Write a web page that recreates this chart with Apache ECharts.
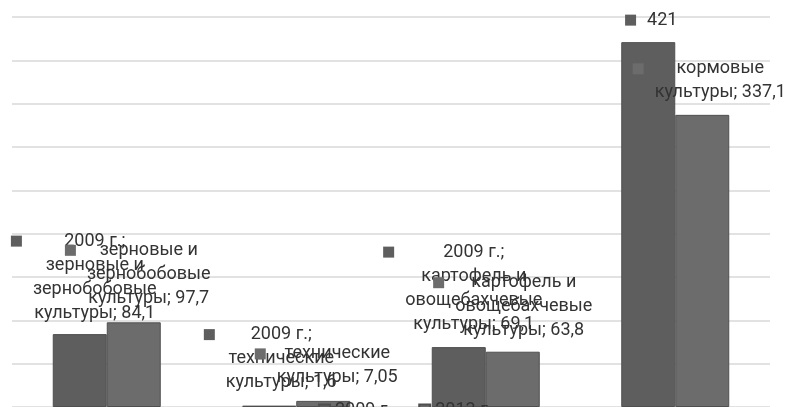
<!DOCTYPE html>
<html>
<head>
<meta charset="utf-8">
<script src="https://cdn.jsdelivr.net/npm/echarts@6/dist/echarts.min.js"></script>
<style>
  html, body { margin: 0; padding: 0; background: #ffffff; }
  #chart { width: 786px; height: 407px; }
</style>
</head>
<body>
<div id="chart"></div>
<script>
// Crop groups (line breaks mirror how the data labels wrap)
const categories = [
  'зерновые и\nзернобобовые\nкультуры',
  'технические\nкультуры',
  'картофель и\nовощебахчевые\nкультуры',
  'кормовые\nкультуры'
];
const seriesNames = ['2009 г.', '2013 г.'];
const values2009 = [84.1, 1.6, 69.1, 421];
const values2013 = [97.7, 7.05, 63.8, 337.1];

// Which parts each data label shows: s = series name, c = category, v = value
const labelParts2009 = ['scv', 'scv', 'scv', 'v'];
const labelParts2013 = ['cv', 'cv', 'cv', 'cv'];

// Label placement relative to the top of each bar, [dx, dy]
const labelOffsets2009 = [[4, -105], [1, -83], [4, -107], [3, -34]];
const labelOffsets2013 = [[4, -84], [3, -59], [0, -81], [7, -58]];

const FONT = 'Roboto';
const TEXT_COLOR = '#333333';
const COLORS = ['#5e5e5e', '#6c6c6c'];

function fmtNum(v) {
  return String(v).replace('.', ',');
}

function buildLabel(name, cat, value, parts) {
  const lines = [];
  if (parts.indexOf('s') >= 0) lines.push(name + ';');
  if (parts.indexOf('c') >= 0) {
    const catLines = cat.split('\n');
    catLines[catLines.length - 1] += '; ' + fmtNum(value);
    lines.push.apply(lines, catLines);
  } else {
    lines.push(fmtNum(value));
  }
  return lines.map(function (ln, i) {
    return (i === 0 ? '{mk|}{gp|}' : '{sp|}') + '{t|' + ln + '}';
  }).join('\n');
}

function richFor(color) {
  return {
    mk: { width: 11, height: 11, backgroundColor: color, align: 'left', lineHeight: 24 },
    gp: { width: 11, height: 10, align: 'left', lineHeight: 24 },
    sp: { width: 22, height: 10, align: 'left', lineHeight: 24 },
    t: { fontSize: 18, fontFamily: FONT, color: TEXT_COLOR, lineHeight: 24, align: 'center' }
  };
}

function makeSeries(idx, values, parts, offsets) {
  return {
    name: seriesNames[idx],
    type: 'bar',
    barWidth: 54,
    barGap: '0%',
    itemStyle: { color: COLORS[idx], borderColor: '#4f4f4f', borderWidth: 1 },
    data: values.map(function (v, i) {
      return { value: v, label: { offset: offsets[i] } };
    }),
    label: {
      show: true,
      position: 'top',
      distance: 0,
      align: 'center',
      verticalAlign: 'top',
      formatter: function (p) {
        return buildLabel(seriesNames[idx], categories[p.dataIndex], p.value, parts[p.dataIndex]);
      },
      rich: richFor(COLORS[idx])
    }
  };
}

const chart = echarts.init(document.getElementById('chart'), null, { renderer: 'canvas' });
chart.setOption({
  animation: false,
  backgroundColor: '#ffffff',
  color: COLORS,
  grid: { left: 12, right: 16, top: 17, height: 393, containLabel: false },
  legend: {
    data: seriesNames,
    left: 313,
    top: 396,
    icon: 'rect',
    itemWidth: 11,
    itemHeight: 11,
    itemGap: 26,
    textStyle: { fontSize: 18, fontFamily: FONT, color: TEXT_COLOR }
  },
  xAxis: {
    type: 'category',
    data: categories,
    axisLabel: { show: false },
    axisTick: { show: false },
    axisLine: { show: false }
  },
  yAxis: {
    type: 'value',
    min: 0,
    max: 450,
    interval: 50,
    axisLabel: { show: false },
    axisLine: { show: false },
    axisTick: { show: false },
    splitLine: { lineStyle: { color: '#d9d9d9', width: 1.5 } }
  },
  series: [
    makeSeries(0, values2009, labelParts2009, labelOffsets2009),
    makeSeries(1, values2013, labelParts2013, labelOffsets2013)
  ]
});
</script>
</body>
</html>
